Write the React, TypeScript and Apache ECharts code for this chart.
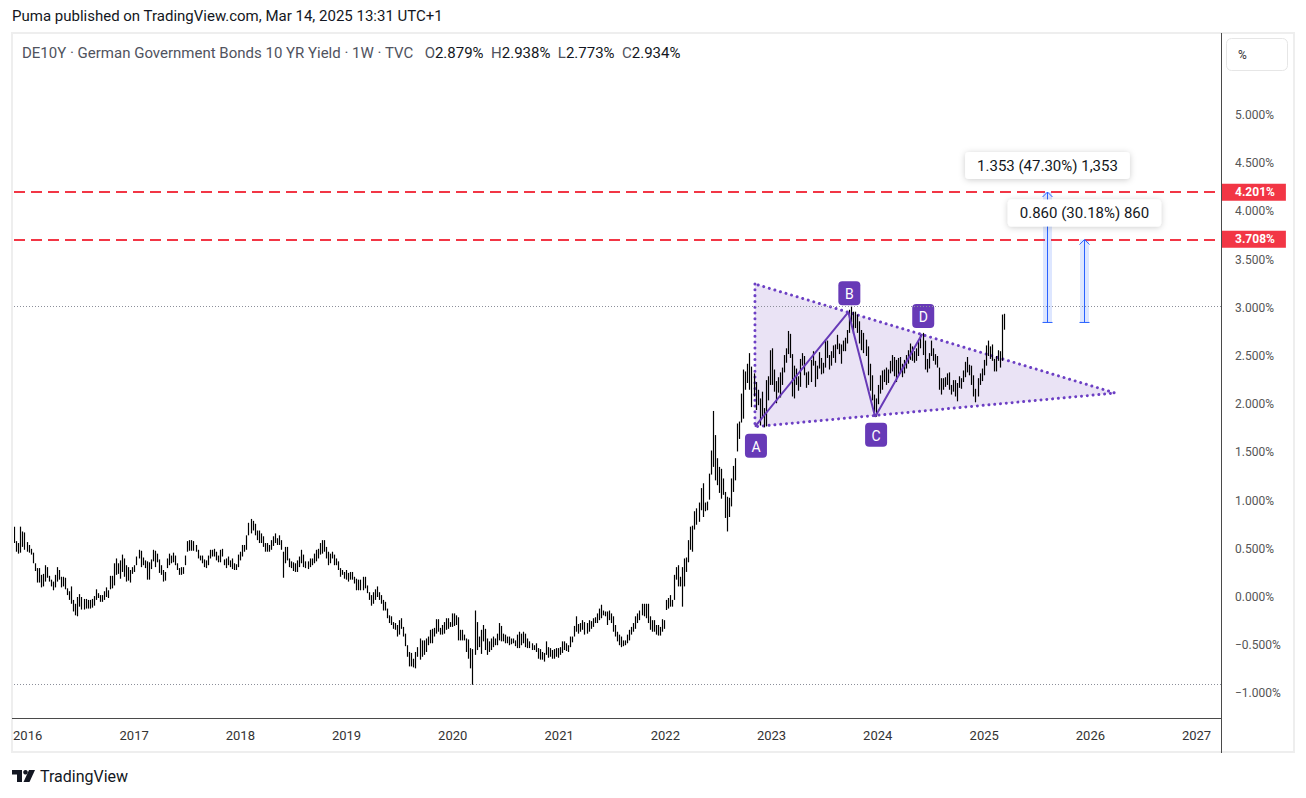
import React, { useEffect, useRef } from 'react';
import * as echarts from 'echarts';

// ---------- DATA (weekly bars) ----------
const firstWeek = '2015-11-16';

const lo2015 = [0.56, 0.47, 0.45, 0.46, 0.52, 0.49, 0.47];
const hi2015 = [0.73, 0.58, 0.56, 0.73, 0.68, 0.67, 0.57];

const lo2016 = [0.46, 0.44, 0.35, 0.27, 0.15, 0.15, 0.10, 0.11, 0.16, 0.20, 0.16, 0.11, 0.07, 0.10, 0.16, 0.18, 0.10, 0.11, 0.08, 0.02, -0.03, -0.07, -0.15, -0.19, -0.20, -0.10, -0.13, -0.13, -0.12, -0.12, -0.12, -0.11, -0.09, -0.03, -0.01, -0.05, -0.05, -0.03, 0.00, -0.01, 0.08, 0.09, 0.12, 0.23, 0.24, 0.19, 0.26, 0.21, 0.16, 0.17, 0.15, 0.24];
const hi2016 = [0.54, 0.50, 0.46, 0.35, 0.30, 0.30, 0.23, 0.24, 0.33, 0.31, 0.22, 0.18, 0.16, 0.23, 0.31, 0.28, 0.21, 0.21, 0.20, 0.09, 0.06, 0.11, -0.03, -0.07, 0.00, 0.03, 0.00, -0.02, -0.02, -0.03, -0.03, -0.02, 0.01, 0.08, 0.04, 0.02, 0.02, 0.06, 0.10, 0.07, 0.22, 0.22, 0.35, 0.40, 0.35, 0.38, 0.44, 0.40, 0.33, 0.31, 0.28, 0.31];

const lo2017 = [0.26, 0.33, 0.40, 0.31, 0.33, 0.30, 0.18, 0.18, 0.29, 0.37, 0.31, 0.36, 0.25, 0.23, 0.16, 0.17, 0.30, 0.33, 0.35, 0.36, 0.33, 0.28, 0.23, 0.23, 0.24, 0.33, 0.47, 0.48, 0.48, 0.48, 0.47, 0.40, 0.38, 0.35, 0.31, 0.30, 0.33, 0.40, 0.42, 0.42, 0.38, 0.36, 0.36, 0.42, 0.33, 0.30, 0.33, 0.31, 0.29, 0.28, 0.28, 0.31];
const hi2017 = [0.33, 0.42, 0.49, 0.48, 0.41, 0.38, 0.37, 0.36, 0.39, 0.49, 0.48, 0.45, 0.39, 0.33, 0.28, 0.26, 0.40, 0.45, 0.43, 0.46, 0.43, 0.35, 0.30, 0.31, 0.31, 0.43, 0.58, 0.59, 0.59, 0.58, 0.54, 0.49, 0.43, 0.43, 0.39, 0.38, 0.43, 0.49, 0.49, 0.50, 0.47, 0.43, 0.49, 0.50, 0.39, 0.40, 0.42, 0.38, 0.40, 0.35, 0.34, 0.44];

const lo2018 = [0.38, 0.42, 0.47, 0.49, 0.64, 0.66, 0.69, 0.64, 0.59, 0.56, 0.56, 0.52, 0.47, 0.47, 0.47, 0.49, 0.53, 0.56, 0.54, 0.54, 0.49, 0.20, 0.35, 0.38, 0.31, 0.30, 0.27, 0.26, 0.26, 0.31, 0.35, 0.31, 0.30, 0.29, 0.31, 0.33, 0.35, 0.37, 0.40, 0.44, 0.45, 0.47, 0.40, 0.33, 0.35, 0.40, 0.33, 0.33, 0.28, 0.21, 0.23, 0.19, 0.18];
const hi2018 = [0.47, 0.54, 0.54, 0.64, 0.77, 0.81, 0.79, 0.76, 0.69, 0.69, 0.66, 0.63, 0.56, 0.56, 0.54, 0.59, 0.63, 0.66, 0.61, 0.64, 0.59, 0.47, 0.52, 0.52, 0.40, 0.37, 0.36, 0.35, 0.38, 0.42, 0.49, 0.44, 0.37, 0.37, 0.40, 0.40, 0.45, 0.49, 0.50, 0.56, 0.59, 0.59, 0.52, 0.47, 0.45, 0.47, 0.44, 0.40, 0.37, 0.30, 0.28, 0.26, 0.28];

const lo2019 = [0.16, 0.18, 0.18, 0.14, 0.07, 0.07, 0.07, 0.07, 0.09, 0.04, -0.03, -0.09, -0.07, -0.03, 0.00, -0.03, -0.07, -0.14, -0.14, -0.22, -0.27, -0.29, -0.33, -0.34, -0.41, -0.39, -0.33, -0.41, -0.51, -0.62, -0.72, -0.72, -0.73, -0.74, -0.62, -0.65, -0.62, -0.60, -0.57, -0.50, -0.48, -0.48, -0.41, -0.38, -0.36, -0.39, -0.39, -0.38, -0.34, -0.33, -0.31, -0.31];
const hi2019 = [0.25, 0.26, 0.26, 0.21, 0.19, 0.18, 0.18, 0.21, 0.21, 0.12, 0.05, 0.02, 0.05, 0.08, 0.11, 0.05, 0.02, -0.03, -0.05, -0.12, -0.19, -0.20, -0.26, -0.27, -0.29, -0.24, -0.22, -0.31, -0.38, -0.50, -0.57, -0.58, -0.64, -0.57, -0.52, -0.43, -0.45, -0.45, -0.43, -0.41, -0.34, -0.33, -0.32, -0.23, -0.23, -0.32, -0.29, -0.26, -0.22, -0.22, -0.26, -0.17];

const lo2020 = [-0.30, -0.29, -0.45, -0.45, -0.45, -0.45, -0.57, -0.64, -0.74, -0.91, -0.60, -0.55, -0.52, -0.59, -0.46, -0.55, -0.60, -0.57, -0.55, -0.52, -0.50, -0.50, -0.45, -0.46, -0.46, -0.48, -0.48, -0.50, -0.49, -0.48, -0.51, -0.53, -0.53, -0.50, -0.48, -0.52, -0.53, -0.53, -0.55, -0.55, -0.57, -0.64, -0.65, -0.65, -0.67, -0.60, -0.63, -0.62, -0.64, -0.64, -0.62, -0.63];
const hi2020 = [-0.17, -0.19, -0.21, -0.34, -0.34, -0.39, -0.43, -0.44, -0.53, -0.54, -0.14, -0.26, -0.41, -0.34, -0.29, -0.33, -0.43, -0.46, -0.43, -0.41, -0.43, -0.38, -0.27, -0.30, -0.38, -0.39, -0.41, -0.41, -0.43, -0.43, -0.45, -0.39, -0.36, -0.38, -0.36, -0.38, -0.43, -0.46, -0.48, -0.50, -0.48, -0.53, -0.54, -0.57, -0.58, -0.46, -0.52, -0.53, -0.55, -0.54, -0.53, -0.53];

const lo2021 = [-0.60, -0.58, -0.55, -0.56, -0.57, -0.52, -0.47, -0.41, -0.36, -0.38, -0.36, -0.34, -0.39, -0.38, -0.36, -0.33, -0.31, -0.27, -0.27, -0.24, -0.22, -0.19, -0.20, -0.29, -0.24, -0.27, -0.36, -0.41, -0.46, -0.50, -0.52, -0.51, -0.50, -0.48, -0.45, -0.39, -0.36, -0.33, -0.27, -0.24, -0.19, -0.20, -0.22, -0.27, -0.34, -0.36, -0.36, -0.39, -0.40, -0.40, -0.36, -0.33];
const hi2021 = [-0.52, -0.46, -0.46, -0.48, -0.50, -0.41, -0.41, -0.30, -0.20, -0.28, -0.27, -0.24, -0.26, -0.27, -0.24, -0.25, -0.22, -0.21, -0.17, -0.12, -0.08, -0.14, -0.15, -0.15, -0.14, -0.17, -0.20, -0.29, -0.36, -0.39, -0.41, -0.45, -0.45, -0.39, -0.34, -0.31, -0.27, -0.20, -0.17, -0.14, -0.07, -0.07, -0.07, -0.07, -0.20, -0.24, -0.24, -0.29, -0.29, -0.31, -0.23, -0.24];

const lo2022 = [-0.135, -0.12, -0.10, -0.10, -0.03, 0.18, 0.11, 0.11, -0.10, 0.11, 0.26, 0.36, 0.49, 0.47, 0.70, 0.75, 0.78, 0.90, 0.83, 0.89, 0.90, 1.01, 1.27, 1.35, 1.21, 1.16, 1.08, 1.02, 1.06, 0.82, 0.68, 0.83, 0.94, 1.09, 1.21, 1.51, 1.64, 1.81, 1.85, 2.15, 2.22, 2.15, 1.97, 2.08, 1.94, 1.99, 1.78, 1.87, 1.76, 1.77, 2.04, 2.20];
const hi2022 = [-0.03, -0.01, 0.02, -0.03, 0.23, 0.31, 0.33, 0.21, 0.31, 0.40, 0.41, 0.59, 0.73, 0.74, 0.89, 0.92, 0.98, 1.13, 1.18, 0.98, 0.99, 1.28, 1.52, 1.93, 1.68, 1.44, 1.35, 1.33, 1.23, 1.09, 1.04, 1.03, 1.23, 1.36, 1.44, 1.80, 1.82, 2.11, 2.36, 2.34, 2.42, 2.53, 2.39, 2.32, 2.23, 2.15, 2.06, 2.13, 1.96, 2.25, 2.29, 2.56];

const lo2023 = [2.20, 2.13, 2.01, 2.12, 2.07, 2.20, 2.33, 2.43, 2.52, 2.48, 2.08, 2.06, 2.20, 2.14, 2.18, 2.40, 2.30, 2.17, 2.20, 2.23, 2.40, 2.18, 2.26, 2.37, 2.31, 2.32, 2.38, 2.48, 2.36, 2.40, 2.48, 2.43, 2.57, 2.52, 2.42, 2.55, 2.55, 2.63, 2.74, 2.85, 2.73, 2.79, 2.74, 2.63, 2.56, 2.53, 2.50, 2.30, 2.14, 2.04, 1.92, 1.87];
const hi2023 = [2.58, 2.36, 2.24, 2.28, 2.33, 2.38, 2.51, 2.58, 2.76, 2.73, 2.52, 2.40, 2.37, 2.29, 2.47, 2.53, 2.50, 2.33, 2.34, 2.46, 2.55, 2.45, 2.40, 2.54, 2.48, 2.43, 2.67, 2.66, 2.51, 2.55, 2.61, 2.62, 2.72, 2.63, 2.62, 2.66, 2.69, 2.77, 2.98, 3.02, 2.96, 2.96, 2.93, 2.86, 2.77, 2.74, 2.67, 2.60, 2.42, 2.30, 2.10, 2.06];

const lo2024 = [2.00, 2.11, 2.15, 2.23, 2.20, 2.22, 2.32, 2.34, 2.29, 2.23, 2.30, 2.32, 2.28, 2.32, 2.37, 2.42, 2.46, 2.45, 2.43, 2.45, 2.50, 2.58, 2.51, 2.36, 2.33, 2.37, 2.50, 2.45, 2.41, 2.38, 2.15, 2.10, 2.15, 2.18, 2.20, 2.15, 2.10, 2.13, 2.08, 2.03, 2.17, 2.16, 2.23, 2.28, 2.33, 2.30, 2.20, 2.08, 2.02, 2.08, 2.20, 2.24, 2.30];
const hi2024 = [2.20, 2.30, 2.35, 2.36, 2.38, 2.36, 2.45, 2.51, 2.49, 2.46, 2.48, 2.49, 2.42, 2.46, 2.51, 2.56, 2.63, 2.60, 2.55, 2.58, 2.65, 2.72, 2.74, 2.66, 2.47, 2.53, 2.66, 2.58, 2.52, 2.50, 2.38, 2.27, 2.27, 2.28, 2.32, 2.33, 2.20, 2.25, 2.25, 2.22, 2.29, 2.27, 2.35, 2.44, 2.49, 2.41, 2.40, 2.30, 2.16, 2.27, 2.32, 2.37, 2.46];

const lo2025 = [2.40, 2.50, 2.47, 2.45, 2.34, 2.34, 2.45, 2.38, 2.45, 2.773];
const hi2025 = [2.61, 2.66, 2.60, 2.62, 2.47, 2.50, 2.56, 2.55, 2.93, 2.938];

const lastOpen = 2.879;
const lastClose = 2.934;

const yTicks = [-1, -0.5, 0, 0.5, 1, 1.5, 2, 2.5, 3, 3.5, 4, 4.5, 5];
const yearTicks = [2016, 2017, 2018, 2019, 2020, 2021, 2022, 2023, 2024, 2025, 2026, 2027];
const levelLines = [4.201, 3.708];

const abcdLetters = ['A', 'B', 'C', 'D'];
const abcdDates = ['2022-11-05', '2023-09-22', '2023-12-23', '2024-06-02'];
const abcdValues = [1.767, 2.955, 1.87, 2.728];

const triangleDates = ['2022-11-05', '2022-11-05', '2026-03-27'];
const triangleValues = [3.247, 1.767, 2.116];

const measureDates = ['2025-08-06', '2025-12-09'];
const measureFrom = [2.848, 2.848];
const measureTo = [4.201, 3.708];
const measureTexts = ['1.353 (47.30%) 1,353', '0.860 (30.18%) 860'];

// ---------- BUILD ----------
const lows = [...lo2015, ...lo2016, ...lo2017, ...lo2018, ...lo2019, ...lo2020, ...lo2021, ...lo2022, ...lo2023, ...lo2024, ...lo2025];
const highs = [...hi2015, ...hi2016, ...hi2017, ...hi2018, ...hi2019, ...hi2020, ...hi2021, ...hi2022, ...hi2023, ...hi2024, ...hi2025];
const DAY = 86400000;
const t0 = Date.parse(firstWeek);
const barData = lows.map((l, i) => [t0 + i * 7 * DAY, l, highs[i]]);
const maxHigh = Math.max(...highs);
const minLow = Math.min(...lows);

const FONT = 'Roboto, "Noto Sans", sans-serif';
const fmtPct = (v: number) => (v < 0 ? '\u2212' + Math.abs(v).toFixed(3) : v.toFixed(3)) + '%';

export default function App() {
  const ref = useRef<HTMLDivElement>(null);
  useEffect(() => {
    if (!ref.current) return;
    const chart = echarts.init(ref.current, undefined, { renderer: 'svg' });
    const labelDy = [19, -19, 18, -18];
    const option: any = {
      animation: false,
      backgroundColor: '#ffffff',
      textStyle: { fontFamily: FONT },
      grid: { left: 14, right: 85, top: 35, bottom: 80 },
      xAxis: {
        type: 'value',
        min: Date.parse('2015-11-15'),
        max: Date.parse('2027-03-26'),
        axisLine: { show: false, onZero: false },
        axisTick: { show: false },
        splitLine: { show: false },
        axisLabel: {
          customValues: yearTicks.map((y) => Date.UTC(y, 0, 1)),
          formatter: (v: number) => String(new Date(v).getUTCFullYear()),
          color: '#333',
          fontSize: 13,
          margin: 11,
          fontFamily: FONT,
        },
      },
      yAxis: {
        type: 'value',
        position: 'right',
        min: -1.255,
        max: 5.83,
        axisLine: { show: false, onZero: false },
        axisTick: { show: false },
        splitLine: { show: false },
        axisLabel: {
          customValues: yTicks,
          formatter: (v: number) => fmtPct(v),
          color: '#555',
          fontSize: 12,
          margin: 14,
          fontFamily: FONT,
        },
      },
      series: [
        {
          type: 'custom',
          name: 'triangle',
          z: 1,
          clip: false,
          data: [[Date.parse(triangleDates[0]), triangleValues[0]]],
          renderItem: (params: any, api: any) => {
            const pts = triangleDates.map((d, i) => api.coord([Date.parse(d), triangleValues[i]]));
            return {
              type: 'group',
              children: [
                { type: 'polygon', shape: { points: pts }, style: { fill: 'rgba(103,58,183,0.14)', stroke: 'none' } },
                {
                  type: 'polygon',
                  shape: { points: pts },
                  style: { fill: 'none', stroke: '#6c3fc4', lineWidth: 3, lineDash: [0.01, 5.8], lineCap: 'round' },
                },
              ],
            };
          },
        },
        {
          type: 'custom',
          name: 'DE10Y',
          z: 2,
          clip: true,
          data: barData,
          encode: { x: 0, y: [1, 2] },
          renderItem: (params: any, api: any) => {
            const t = api.value(0);
            const p1 = api.coord([t, api.value(1)]);
            const p2 = api.coord([t, api.value(2)]);
            const x = Math.round(p1[0]) + 0.5;
            const y1 = p1[1];
            let y2 = p2[1];
            if (y1 - y2 < 2) y2 = y1 - 2;
            return { type: 'line', shape: { x1: x, y1, x2: x, y2 }, style: { stroke: '#000', lineWidth: 1.2 } };
          },
        },
        {
          type: 'line',
          name: 'ABCD',
          z: 3,
          data: abcdDates.map((d, i) => [Date.parse(d), abcdValues[i]]),
          showSymbol: false,
          symbol: 'none',
          lineStyle: { color: '#673ab7', width: 2 },
          markLine: {
            silent: true,
            symbol: ['none', 'none'],
            animation: false,
            data: [
              ...levelLines.map((v) => ({
                yAxis: v,
                lineStyle: { color: '#f23645', type: [11, 6], width: 2 },
                label: {
                  show: true,
                  position: 'end',
                  distance: 1,
                  formatter: fmtPct(v),
                  backgroundColor: '#f23645',
                  color: '#fff',
                  fontWeight: 'bold',
                  fontSize: 12,
                  fontFamily: FONT,
                  padding: [3, 11, 2, 13],
                },
              })),
              { yAxis: maxHigh, lineStyle: { color: '#8c8f9a', type: [1, 2], width: 1 }, label: { show: false } },
              { yAxis: minLow, lineStyle: { color: '#8c8f9a', type: [1, 2], width: 1 }, label: { show: false } },
            ],
          },
        },
        {
          type: 'custom',
          name: 'labels',
          z: 4,
          clip: false,
          data: abcdDates.map((d, i) => [Date.parse(d), abcdValues[i]]),
          renderItem: (params: any, api: any) => {
            const i = params.dataIndex;
            const p = api.coord([api.value(0), api.value(1)]);
            const cx = p[0] + 1;
            const cy = p[1] + labelDy[i];
            return {
              type: 'group',
              children: [
                { type: 'rect', shape: { x: cx - 11, y: cy - 12, width: 22, height: 24, r: 4 }, style: { fill: '#673ab7' } },
                {
                  type: 'text',
                  style: { text: abcdLetters[i], x: cx, y: cy + 1, align: 'center', verticalAlign: 'middle', fill: '#fff', fontSize: 14, fontFamily: FONT },
                },
              ],
            };
          },
        },
        {
          type: 'custom',
          name: 'measures',
          z: 5,
          clip: false,
          data: measureDates.map((d, i) => [Date.parse(d), measureFrom[i], measureTo[i]]),
          renderItem: (params: any, api: any) => {
            const i = params.dataIndex;
            const pb = api.coord([api.value(0), api.value(1)]);
            const pt = api.coord([api.value(0), api.value(2)]);
            const x = Math.round(pb[0]) + 0.5;
            return {
              type: 'group',
              children: [
                { type: 'rect', shape: { x: x - 4.5, y: pt[1], width: 9, height: pb[1] - pt[1] }, style: { fill: 'rgba(41,98,255,0.16)' } },
                { type: 'line', shape: { x1: x, y1: pt[1], x2: x, y2: pb[1] }, style: { stroke: '#2962ff', lineWidth: 1 } },
                { type: 'line', shape: { x1: x - 5, y1: pb[1], x2: x + 5, y2: pb[1] }, style: { stroke: '#2962ff', lineWidth: 1 } },
                { type: 'polyline', shape: { points: [[x - 5, pt[1] + 5], [x, pt[1]], [x + 5, pt[1] + 5]] }, style: { stroke: '#2962ff', lineWidth: 1, fill: 'none' } },
                {
                  type: 'text',
                  style: {
                    text: measureTexts[i],
                    x,
                    y: pt[1] - 13,
                    align: 'center',
                    verticalAlign: 'bottom',
                    fill: '#131722',
                    fontSize: 15,
                    fontFamily: FONT,
                    backgroundColor: '#ffffff',
                    padding: [6, 12, 6, 12],
                    borderRadius: 4,
                    shadowBlur: 6,
                    shadowColor: 'rgba(0,0,0,0.2)',
                    shadowOffsetY: 1,
                  },
                },
              ],
            };
          },
        },
      ],
      graphic: [
        { type: 'rect', shape: { x: 12, y: 33, width: 1282, height: 719 }, style: { fill: 'none', stroke: '#eeeeee', lineWidth: 2 }, silent: true },
        { type: 'line', shape: { x1: 1221.5, y1: 33, x2: 1221.5, y2: 753 }, style: { stroke: '#4a4a4a', lineWidth: 1 } },
        { type: 'line', shape: { x1: 12, y1: 718.5, x2: 1221, y2: 718.5 }, style: { stroke: '#4a4a4a', lineWidth: 1 } },
        { type: 'rect', shape: { x: 1226.5, y: 38.5, width: 61, height: 32, r: 5 }, style: { fill: '#fff', stroke: '#e6e6e6', lineWidth: 1 } },
        { type: 'text', x: 1238, y: 55, style: { text: '%', fill: '#333', fontSize: 12, fontFamily: FONT, verticalAlign: 'middle' } },
        {
          type: 'text', x: 12, y: 16,
          style: { text: 'Puma published on TradingView.com, Mar 14, 2025 13:31 UTC+1', fill: '#131722', fontSize: 15, fontFamily: FONT, verticalAlign: 'middle' },
        },
        {
          type: 'text', x: 22, y: 53,
          style: {
            text:
              '{l|DE10Y · German Government Bonds 10 YR Yield · 1W · TVC}   {l|O}{v|' + lastOpen.toFixed(3) + '%}  {l|H}{v|' +
              highs[highs.length - 1].toFixed(3) + '%}  {l|L}{v|' + lows[lows.length - 1].toFixed(3) + '%}  {l|C}{v|' + lastClose.toFixed(3) + '%}',
            fontSize: 15,
            fontFamily: FONT,
            verticalAlign: 'middle',
            rich: {
              l: { fill: '#50535e', fontSize: 15, fontFamily: FONT },
              v: { fill: '#131722', fontSize: 15, fontFamily: FONT },
            },
          },
        },
        { type: 'polygon', shape: { points: [[12, 770], [22, 770], [22, 782], [17, 782], [17, 774.5], [12, 774.5]] }, style: { fill: '#131722' } },
        { type: 'circle', shape: { cx: 25.5, cy: 772.3, r: 2.3 }, style: { fill: '#131722' } },
        { type: 'polygon', shape: { points: [[29, 770], [35, 770], [29.5, 782], [23.5, 782]] }, style: { fill: '#131722' } },
        { type: 'text', x: 40, y: 776.5, style: { text: 'TradingView', fill: '#131722', fontSize: 16, fontFamily: FONT, verticalAlign: 'middle' } },
      ],
    };
    chart.setOption(option);
    return () => chart.dispose();
  }, []);
  return <div ref={ref} style={{ position: 'absolute', left: 0, top: 0, width: 1306, height: 798 }} />;
}
